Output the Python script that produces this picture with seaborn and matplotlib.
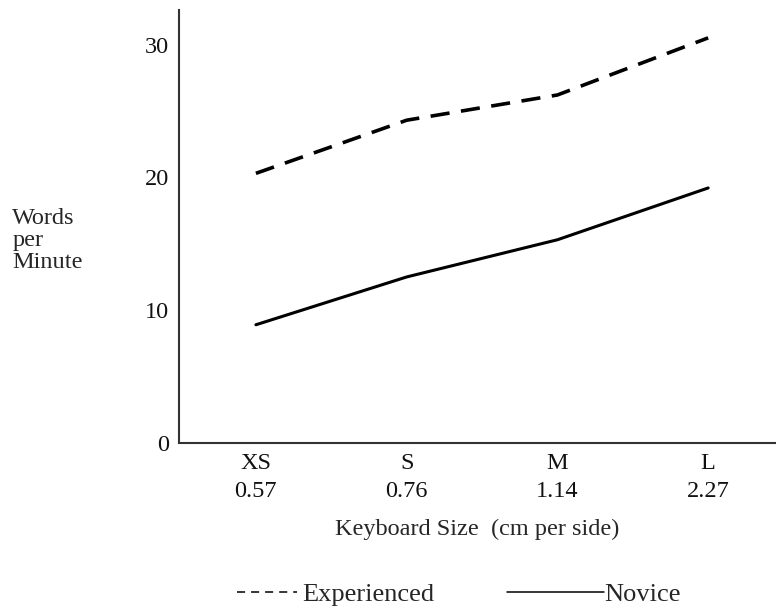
import pandas as pd
import seaborn as sns
import matplotlib.pyplot as plt
from matplotlib.lines import Line2D

# Data
sizes = ["XS", "S", "M", "L"]
side_cm = ["0.57", "0.76", "1.14", "2.27"]
experienced = [20.3, 24.3, 26.2, 30.5]
novice = [8.9, 12.5, 15.3, 19.2]

df = pd.DataFrame({
    "pos": list(range(len(sizes))) * 2,
    "wpm": experienced + novice,
    "group": ["Experienced"] * len(sizes) + ["Novice"] * len(sizes),
})

sns.set_style("white")
plt.rcParams["font.family"] = ["Liberation Serif", "DejaVu Serif"]

fig = plt.figure(figsize=(7.76, 6.08), dpi=100)
ax = fig.add_axes([0.2307, 0.2714, 0.7693, 0.7122])

sns.lineplot(data=df[df["group"] == "Experienced"], x="pos", y="wpm",
             color="black", linewidth=2.6, dashes=False, ax=ax)
sns.lineplot(data=df[df["group"] == "Novice"], x="pos", y="wpm",
             color="black", linewidth=2.2, ax=ax)
ax.lines[0].set_linestyle((0, (5.3, 3.2)))

ax.set_xlim(-0.51, 3.45)
ax.set_ylim(0, 32.6)
ax.set_xticks(range(len(sizes)))
ax.set_xticklabels([f"{s}\n{c}" for s, c in zip(sizes, side_cm)], fontsize=17.5,
                   linespacing=1.45)
ax.set_yticks([0, 10, 20, 30])
ax.set_yticklabels(["0", "10", "20", "30"], fontsize=17.5)
ax.tick_params(axis="both", length=0, colors="#111111")
ax.tick_params(axis="x", pad=7)
ax.tick_params(axis="y", pad=7)

sns.despine(ax=ax)
for side in ["left", "bottom"]:
    ax.spines[side].set_color("#333333")
    ax.spines[side].set_linewidth(1.5)

ax.set_xlabel("Keyboard Size  (cm per side)", fontsize=17.5, labelpad=12)
ax.set_ylabel("")
fig.text(0.016, 0.658, "Words\nper\nMinute", fontsize=17.5, ha="left", va="top",
         linespacing=1.05)

# two separate legend entries, each with its own handle length
fig.legend([Line2D([], [], color="black", lw=1.1, linestyle=(0, (5.3, 3.9)))],
           ["Experienced"], loc="center left",
           bbox_to_anchor=(0.305, 0.022), frameon=False, fontsize=19,
           handlelength=2.3, handletextpad=0.2, borderpad=0,
           borderaxespad=0)
fig.legend([Line2D([], [], color="black", lw=1.1)], ["Novice"],
           loc="center left", bbox_to_anchor=(0.653, 0.022), frameon=False,
           fontsize=19, handlelength=3.7, handletextpad=0.0, borderpad=0,
           borderaxespad=0)

plt.savefig("out.png", dpi=100)
